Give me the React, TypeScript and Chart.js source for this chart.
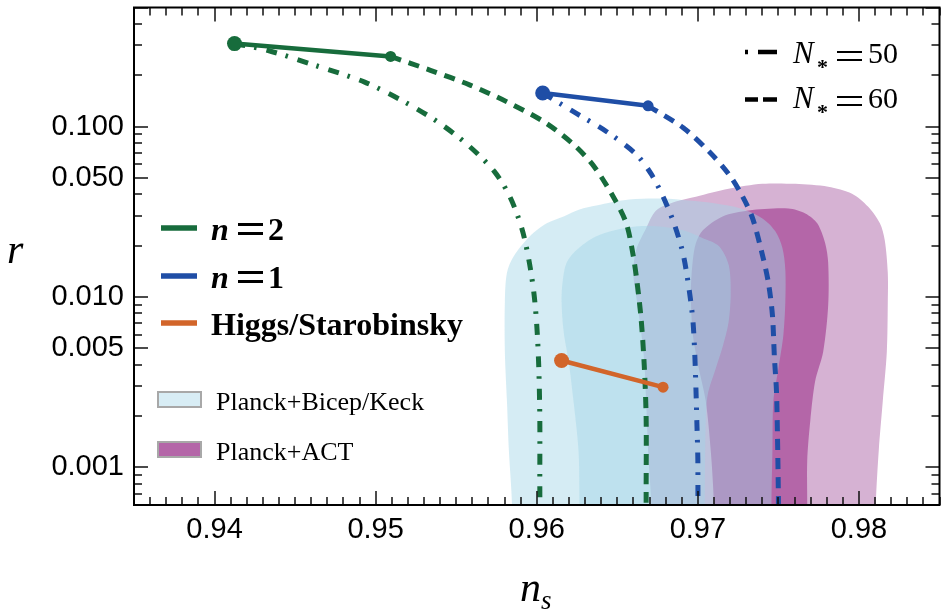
import React, { useEffect, useRef } from "react";
import { Chart, registerables } from "chart.js";

Chart.register(...registerables);

// ---- axes ----
const nsTickValues = [0.94, 0.95, 0.96, 0.97, 0.98];
const rTickValues = [0.001, 0.005, 0.01, 0.05, 0.1];
const nsRange = [0.935, 0.985];
const rRange = [0.0006, 0.5];

// ---- n = 2 model ----
const n2N50_ns = [0.94124, 0.94333, 0.94624, 0.94932, 0.95179, 0.95383, 0.95568, 0.95735, 0.95833, 0.95907, 0.95951, 0.95982, 0.96, 0.96012, 0.96019, 0.96019, 0.9602];
const n2N50_r = [0.307, 0.2795, 0.2288, 0.1823, 0.1396, 0.1069, 0.0786, 0.0548, 0.0388, 0.0253, 0.0165, 0.0106, 0.00684, 0.00401, 0.00195, 0.00081, 0.0005];
const n2N60_ns = [0.95093, 0.9534, 0.95586, 0.95815, 0.96043, 0.96228, 0.96358, 0.96481, 0.96556, 0.96599, 0.96623, 0.96648, 0.96667, 0.96679, 0.96679, 0.96679];
const n2N60_r = [0.258, 0.214, 0.1752, 0.1396, 0.1069, 0.0786, 0.0579, 0.0378, 0.027, 0.0174, 0.0121, 0.0074, 0.004, 0.00195, 0.00071, 0.0005];
const n2End_ns = [0.94124, 0.95093];
const n2End_r = [0.307, 0.258];

// ---- n = 1 model ----
const n1N50_ns = [0.96037, 0.96228, 0.96432, 0.96617, 0.9671, 0.96784, 0.96852, 0.96907, 0.96944, 0.96969, 0.96981, 0.96988, 0.96994, 0.97, 0.97];
const n1N50_r = [0.1574, 0.1222, 0.0936, 0.0688, 0.0527, 0.0388, 0.027, 0.0181, 0.01135, 0.00731, 0.00458, 0.00291, 0.00182, 0.0011, 0.0005];
const n1N60_ns = [0.96691, 0.96907, 0.97068, 0.97191, 0.97278, 0.9734, 0.97401, 0.97438, 0.97463, 0.97475, 0.97488, 0.97494, 0.975, 0.975];
const n1N60_r = [0.1323, 0.0987, 0.0716, 0.0527, 0.0388, 0.0289, 0.0176, 0.0121, 0.0078, 0.00446, 0.0028, 0.00157, 0.00067, 0.0005];
const n1End_ns = [0.96037, 0.96691];
const n1End_r = [0.1574, 0.1323];

// ---- Higgs / Starobinsky ----
const higgs_ns = [0.96154, 0.96784];
const higgs_r = [0.00423, 0.00295];

// ---- Planck + Bicep/Keck contours ----
const bk2_ns = [0.95846, 0.95846, 0.95827, 0.95815, 0.95802, 0.95802, 0.95815, 0.95858, 0.95957, 0.96062, 0.96167, 0.96265, 0.9637, 0.96574, 0.96784, 0.96944, 0.97111, 0.97265, 0.97401, 0.97481, 0.97525, 0.97543, 0.97543, 0.97531, 0.975, 0.97469, 0.97463, 0.97457, 0.97457];
const bk2_r = [0.0003, 0.000618, 0.001255, 0.002446, 0.004767, 0.009293, 0.01387, 0.0174, 0.02272, 0.02702, 0.02969, 0.03258, 0.03437, 0.03724, 0.03775, 0.03674, 0.0353, 0.03302, 0.02889, 0.02428, 0.01937, 0.01443, 0.009293, 0.00598, 0.0038, 0.002446, 0.001255, 0.000618, 0.0003];
const bk1_ns = [0.96265, 0.96265, 0.96259, 0.96228, 0.96198, 0.96167, 0.96154, 0.9616, 0.96185, 0.96247, 0.9637, 0.96574, 0.96741, 0.96907, 0.97031, 0.9713, 0.97191, 0.97204, 0.97191, 0.97154, 0.97111, 0.97062, 0.97049, 0.97043, 0.97043];
const bk1_r = [0.0003, 0.000618, 0.001255, 0.002446, 0.004172, 0.006223, 0.009293, 0.01214, 0.01585, 0.01886, 0.02272, 0.02563, 0.02597, 0.02461, 0.02212, 0.01989, 0.01543, 0.01062, 0.007116, 0.005095, 0.0038, 0.002686, 0.001873, 0.000618, 0.0003];

// ---- Planck + ACT contours ----
const act2_ns = [0.9671, 0.9671, 0.96691, 0.96679, 0.96667, 0.96648, 0.96623, 0.96599, 0.96617, 0.96679, 0.96741, 0.96864, 0.96988, 0.97191, 0.97401, 0.97605, 0.97809, 0.97957, 0.98056, 0.9813, 0.9816, 0.98179, 0.98179, 0.98173, 0.98148, 0.98123, 0.98105, 0.98099];
const act2_r = [0.0003, 0.000618, 0.001255, 0.002446, 0.004172, 0.006223, 0.009293, 0.01387, 0.01886, 0.02528, 0.03214, 0.03626, 0.03877, 0.04313, 0.04611, 0.04611, 0.0443, 0.04035, 0.03391, 0.02702, 0.02154, 0.01387, 0.009293, 0.004767, 0.002446, 0.001255, 0.000618, 0.0003];
const act1_ns = [0.97099, 0.97099, 0.9708, 0.97049, 0.97006, 0.96969, 0.96957, 0.96957, 0.96969, 0.96988, 0.97031, 0.97154, 0.97315, 0.97562, 0.97667, 0.97741, 0.9779, 0.97809, 0.97809, 0.97778, 0.97728, 0.97698, 0.97679, 0.97679, 0.97679];
const act1_r = [0.0003, 0.000618, 0.001255, 0.002446, 0.0038, 0.00598, 0.009293, 0.01166, 0.0165, 0.0207, 0.02461, 0.02969, 0.03214, 0.03302, 0.0309, 0.02702, 0.0207, 0.01585, 0.008928, 0.004767, 0.003193, 0.001873, 0.001098, 0.000618, 0.0003];

// minor tick layout
const nsMinorStep = 0.001;
const rMinorMantissas = [1, 2, 3, 4, 5, 6, 7, 8, 9];

// ---- styling ----
const GREEN = "#176c3c";
const BLUE = "#1f4ea6";
const ORANGE = "#d2652a";
const BK_FILL = "rgba(162,213,231,0.45)";
const ACT_OUTER = "#d6b2d3";
const ACT_INNER = "#b466a8";
const SERIF = '"Liberation Serif", "Times New Roman", serif';
const SANS = '"Liberation Sans", Arial, sans-serif';
const DASH = [11, 8];
const DASHDOT = [11, 9, 2.5, 10];
const W = 947;
const H = 614;

const pts = (xs: number[], ys: number[]) => xs.map((x, i) => ({ x, y: ys[i] }));

function curve(label: string, xs: number[], ys: number[], color: string, dash: number[]) {
  return {
    label,
    data: pts(xs, ys),
    showLine: true,
    borderColor: color,
    borderWidth: 5,
    borderDash: dash,
    borderCapStyle: "butt",
    pointRadius: 0,
    pointHoverRadius: 0,
    tension: 0.3,
    fill: false,
    order: 1,
    clip: 0,
  };
}

function region(label: string, xs: number[], ys: number[], color: string, order: number) {
  return {
    label,
    data: pts(xs, ys),
    showLine: true,
    borderWidth: 0,
    borderColor: "transparent",
    backgroundColor: color,
    fill: "shape",
    pointRadius: 0,
    pointHoverRadius: 0,
    tension: 0.3,
    order,
  };
}

function segment(label: string, xs: number[], ys: number[], color: string) {
  return {
    label,
    data: pts(xs, ys),
    showLine: true,
    borderColor: color,
    borderWidth: 4.5,
    pointRadius: [7.5, 5.5],
    pointHoverRadius: 0,
    pointBackgroundColor: color,
    pointBorderWidth: 0,
    tension: 0,
    fill: false,
    order: 0,
  };
}

const zeroPad = (s: any) => {
  s.paddingLeft = 0;
  s.paddingRight = 0;
  s.paddingTop = 0;
  s.paddingBottom = 0;
};

const decorPlugin = {
  id: "decor",
  afterDraw(chart: any) {
    const ctx: CanvasRenderingContext2D = chart.ctx;
    const a = chart.chartArea;
    const xScale = chart.scales["x"];
    const yScale = chart.scales["y"];
    const L = a.left, R = a.right, T = a.top, B = a.bottom;
    ctx.save();
    ctx.setLineDash([]);
    ctx.globalAlpha = 1;

    // inward ticks on all four sides
    ctx.fillStyle = "#111111";
    const nSteps = Math.round((nsRange[1] - nsRange[0]) / nsMinorStep);
    for (let j = 0; j <= nSteps; j++) {
      const v = nsRange[0] + j * nsMinorStep;
      const px = Math.round(xScale.getPixelForValue(v));
      const major = Math.abs(v * 100 - Math.round(v * 100)) < 1e-6;
      const len = major ? 14 : 8;
      ctx.fillRect(px - 0.75, B - len, 1.5, len);
      ctx.fillRect(px - 0.75, T, 1.5, len);
    }
    for (let k = -4; k <= 0; k++) {
      for (const m of rMinorMantissas) {
        const v = m * Math.pow(10, k);
        if (v < rRange[0] * 0.999 || v > rRange[1] * 1.001) continue;
        const py = Math.round(yScale.getPixelForValue(v));
        const len = m === 1 || m === 5 ? 14 : 8;
        ctx.fillRect(L, py - 0.75, len, 1.5);
        ctx.fillRect(R - len, py - 0.75, len, 1.5);
      }
    }

    // frame
    ctx.lineWidth = 2;
    ctx.strokeStyle = "#000";
    ctx.strokeRect(L, T, R - L, B - T);

    const txt = (s: string, x: number, y: number, font: string, color = "#000") => {
      ctx.font = font;
      ctx.fillStyle = color;
      ctx.textAlign = "left";
      ctx.textBaseline = "alphabetic";
      ctx.fillText(s, x, y);
    };
    const hline = (x1: number, x2: number, y: number, color: string, w: number) => {
      ctx.fillStyle = color;
      ctx.fillRect(x1, y - w / 2, x2 - x1, w);
    };
    const eq = (x: number, yTop: number, w: number, gap: number, t: number) => {
      ctx.fillStyle = "#000";
      ctx.fillRect(x, yTop, w, t);
      ctx.fillRect(x, yTop + gap, w, t);
    };

    // axis titles
    txt("r", 7, 263, `italic 42px ${SERIF}`);
    txt("n", 520, 601, `italic 42px ${SERIF}`);
    txt("s", 541, 609, `italic 27px ${SERIF}`);

    // model legend
    const big = `bold 32px ${SERIF}`;
    const bigIt = `italic bold 32px ${SERIF}`;
    hline(161, 197, 228, GREEN, 5.5);
    txt("n", 211, 240, bigIt);
    eq(238, 223, 25, 9, 3);
    txt("2", 268, 240, big);
    hline(161, 197, 276, BLUE, 5.5);
    txt("n", 211, 288, bigIt);
    eq(238, 271, 25, 9, 3);
    txt("1", 268, 288, big);
    hline(161, 197, 323, ORANGE, 5.5);
    txt("Higgs/Starobinsky", 211, 335, big);

    // data legend
    ctx.lineWidth = 2;
    ctx.strokeStyle = "#a8a8a8";
    ctx.fillStyle = "#d8edf5";
    ctx.fillRect(158, 392, 43, 15);
    ctx.strokeRect(158, 392, 43, 15);
    ctx.fillStyle = ACT_INNER;
    ctx.fillRect(158, 442, 43, 15);
    ctx.strokeRect(158, 442, 43, 15);
    txt("Planck+Bicep/Keck", 216, 410, `26px ${SERIF}`);
    txt("Planck+ACT", 216, 460, `26px ${SERIF}`);

    // N* legend
    hline(745, 748, 52, "#000", 4.5);
    hline(758, 777, 52, "#000", 4.5);
    txt("N", 793, 63, `italic 31px ${SERIF}`);
    txt("*", 817, 74, `bold 22px ${SERIF}`);
    eq(837, 51, 25, 8, 2);
    txt("50", 868, 63, `30px ${SERIF}`);
    hline(745, 758, 99.5, "#000", 4.5);
    hline(763, 777, 99.5, "#000", 4.5);
    txt("N", 793, 108, `italic 31px ${SERIF}`);
    txt("*", 817, 119, `bold 22px ${SERIF}`);
    eq(837, 96, 25, 8, 2);
    txt("60", 868, 108, `30px ${SERIF}`);

    ctx.restore();
  },
};

export default function App() {
  const ref = useRef<HTMLCanvasElement>(null);
  useEffect(() => {
    const chart = new Chart(ref.current as HTMLCanvasElement, {
      type: "scatter",
      data: {
        datasets: [
          segment("n=2", n2End_ns, n2End_r, GREEN),
          segment("n=1", n1End_ns, n1End_r, BLUE),
          segment("Higgs/Starobinsky", higgs_ns, higgs_r, ORANGE),
          curve("n=2, N=50", n2N50_ns, n2N50_r, GREEN, DASHDOT),
          curve("n=2, N=60", n2N60_ns, n2N60_r, GREEN, DASH),
          curve("n=1, N=50", n1N50_ns, n1N50_r, BLUE, DASHDOT),
          curve("n=1, N=60", n1N60_ns, n1N60_r, BLUE, DASH),
          region("Planck+Bicep/Keck 1σ", bk1_ns, bk1_r, BK_FILL, 2),
          region("Planck+Bicep/Keck 2σ", bk2_ns, bk2_r, BK_FILL, 3),
          region("Planck+ACT 1σ", act1_ns, act1_r, ACT_INNER, 4),
          region("Planck+ACT 2σ", act2_ns, act2_r, ACT_OUTER, 5),
        ] as any,
      },
      options: {
        animation: false,
        responsive: false,
        maintainAspectRatio: false,
        devicePixelRatio: 1,
        events: [],
        layout: { padding: { left: 0, right: 2, top: 3, bottom: 0 } },
        plugins: { legend: { display: false }, tooltip: { enabled: false } },
        scales: {
          x: {
            type: "linear",
            min: nsRange[0],
            max: nsRange[1],
            grid: { display: false, drawTicks: false },
            border: { display: false },
            afterBuildTicks: (s: any) => {
              s.ticks = nsTickValues.map((v) => ({ value: v }));
            },
            afterFit: (s: any) => {
              s.height = 109;
              zeroPad(s);
            },
            ticks: {
              padding: 8,
              autoSkip: false,
              maxRotation: 0,
              color: "#000",
              font: { family: SANS, size: 29 },
              callback: (v: any) => Number(v).toFixed(2),
            },
          },
          y: {
            type: "logarithmic",
            min: rRange[0],
            max: rRange[1],
            grid: { display: false, drawTicks: false },
            border: { display: false },
            afterBuildTicks: (s: any) => {
              s.ticks = rTickValues.map((v) => ({ value: v }));
            },
            afterFit: (s: any) => {
              s.width = 134;
              zeroPad(s);
            },
            ticks: {
              padding: 10,
              autoSkip: false,
              color: "#000",
              font: { family: SANS, size: 29 },
              callback: (v: any) => Number(v).toFixed(3),
            },
          },
        },
      } as any,
      plugins: [decorPlugin],
    });
    return () => chart.destroy();
  }, []);
  return (
    <div style={{ position: "absolute", left: 0, top: 0, width: W, height: H, background: "#fff", overflow: "hidden" }}>
      <canvas ref={ref} width={W} height={H} style={{ display: "block", width: W, height: H }} />
    </div>
  );
}
